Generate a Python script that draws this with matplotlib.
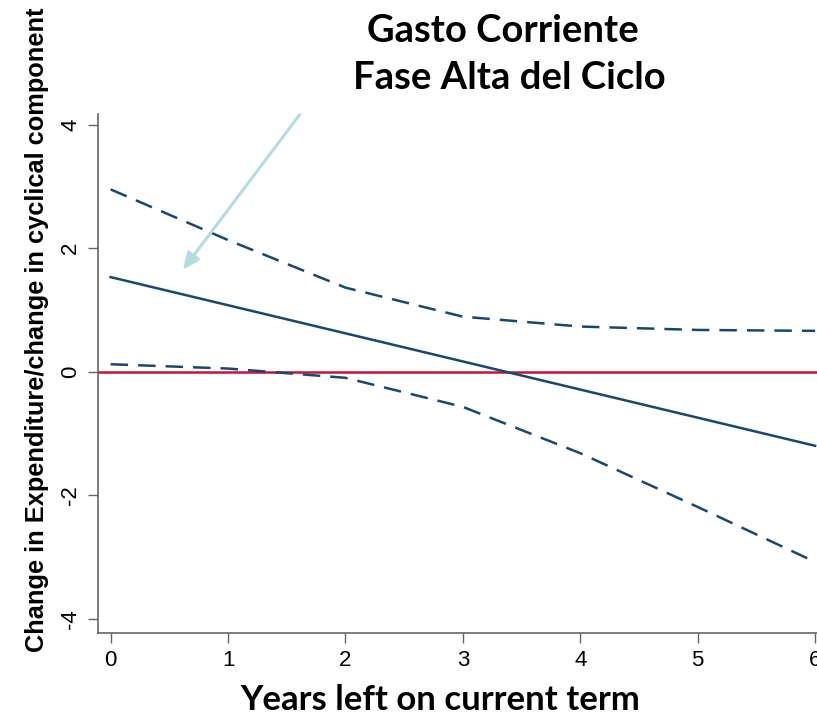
import matplotlib
matplotlib.use("Agg")
import matplotlib.pyplot as plt

# Data
years = [0, 1, 2, 3, 4, 5, 6]
effect = [1.53, 1.075, 0.62, 0.165, -0.29, -0.745, -1.20]
upper_ci = [2.95, 2.13, 1.36, 0.89, 0.73, 0.675, 0.66]
lower_ci = [0.12, 0.05, -0.10, -0.57, -1.32, -2.19, -3.08]
xticks = [0, 1, 2, 3, 4, 5, 6]
yticks = [-4, -2, 0, 2, 4]

title_line1 = "Gasto Corriente"
title_line2 = "Fase Alta del Ciclo"
xlabel_text = "Years left on current term"
ylabel_text = "Change in Expenditure/change in cyclical component"

navy = "#1a476f"
red = "#c8123c"
arrow_col = "#b5dde0"
spine_col = "#666666"

fig = plt.figure(figsize=(8.17, 7.2), dpi=100)
ax = fig.add_axes([97.7 / 817, 87 / 720, (838.6 - 97.7) / 817, (633 - 114) / 720])

ax.axhline(0, color=red, lw=1.8, zorder=2)
ax.plot(years, effect, color=navy, lw=1.8, zorder=3)
ax.plot(years, upper_ci, color=navy, lw=1.8, dashes=(7, 4), zorder=3)
ax.plot(years, lower_ci, color=navy, lw=1.8, dashes=(7, 4), zorder=3)

ax.annotate("", xy=(0.616, 1.65), xytext=(1.61, 4.16),
            arrowprops=dict(arrowstyle="-|>,head_length=1.0,head_width=0.45",
                            color=arrow_col, lw=2.2, shrinkA=0, shrinkB=0),
            annotation_clip=False, zorder=4)

ax.set_xlim(-0.11, 6.2)
ax.set_ylim(-4.23, 4.17)
ax.set_xticks(xticks)
ax.set_yticks(yticks)
ax.set_xticklabels([str(v) for v in xticks], fontsize=16, family="Liberation Sans")
ax.set_yticklabels([str(v) for v in yticks], fontsize=16, family="Liberation Sans",
                   rotation=90, va="center")
ax.tick_params(axis="both", direction="out", length=7, width=1, color=spine_col, pad=5)
for s in ["top", "right"]:
    ax.spines[s].set_visible(False)
for s in ["left", "bottom"]:
    ax.spines[s].set_color(spine_col)
    ax.spines[s].set_linewidth(1.2)

fig.text(503 / 817, 1 - 42 / 720, title_line1, ha="center", va="baseline", fontsize=27.5,
         fontweight="bold", family="Lato")
fig.text(509 / 817, 1 - 89 / 720, title_line2, ha="center", va="baseline", fontsize=27.5,
         fontweight="bold", family="Lato")
fig.text(440 / 817, 1 - 710 / 720, xlabel_text, ha="center", va="baseline", fontsize=25,
         fontweight="bold", family="Lato")
fig.text(0.045, 0.542, ylabel_text, ha="center", va="center", rotation=90,
         fontsize=18.3, fontweight="bold", family="Liberation Sans")

fig.savefig("out.png", dpi=100)
